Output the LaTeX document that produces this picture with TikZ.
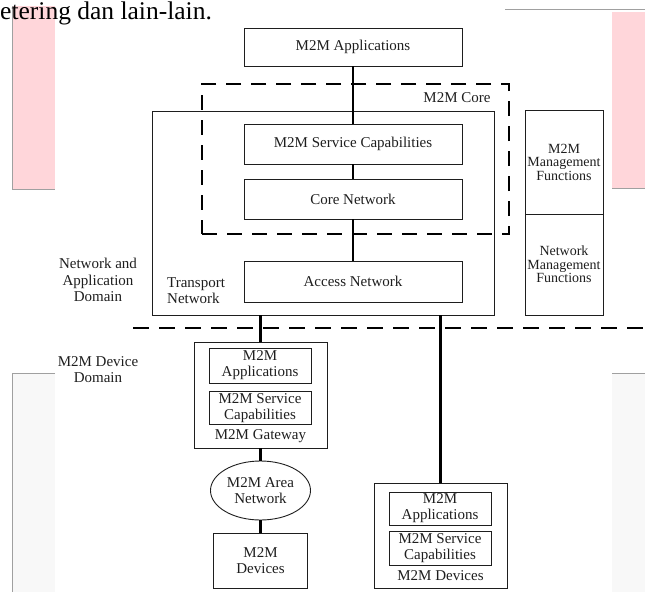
\documentclass[tikz,border=0pt]{standalone}
\usepackage{fontspec}
\setmainfont{Liberation Serif}
\usetikzlibrary{shapes.geometric}

\definecolor{pinkbg}{RGB}{255,214,218}
\definecolor{greybg}{RGB}{248,248,248}
\definecolor{edgegrey}{RGB}{160,160,160}
\definecolor{ink}{RGB}{30,30,30}

\tikzset{
  box/.style={draw=ink, rectangle, line width=0.9pt, inner sep=0pt, align=center,
    text=ink, font=\fontsize{15}{16}\selectfont},
  mgmtbox/.style={box, font=\fontsize{14}{13.5}\selectfont},
  lbl/.style={align=center, inner sep=0pt, text=ink, font=\fontsize{15}{16.5}\selectfont},
  link/.style={draw=black, line width=2.8pt},
  domline/.style={draw=black, line width=2.8pt, dash pattern=on 16pt off 10pt},
}

\begin{document}
\begin{tikzpicture}[x=1pt,y=-1pt]
  \useasboundingbox (0,0) rectangle (645,592);

  % what is left of the page round the picture
  \fill[pinkbg] (12,6) rectangle (55,189);
  \draw[edgegrey] (12,6) -- (12,189) -- (55,189);
  \fill[pinkbg] (612,12) rectangle (645,188);
  \draw[edgegrey] (505,9) -- (645,9);
  \draw[edgegrey] (612,188) -- (645,188);
  \fill[greybg] (12,373) rectangle (55,592);
  \draw[edgegrey] (55,373) -- (12,373) -- (12,592);
  \fill[greybg] (612,373) rectangle (645,592);
  \draw[edgegrey] (612,373) -- (645,373);
  \node[anchor=base west, inner sep=0pt, font=\fontsize{25.5}{27}\selectfont] (top) at (0,19) {etering dan lain-lain.};

  % network and application domain
  \begin{scope}[every node/.style={box}]
    \node[minimum width=342, minimum height=204] (5) at (323,213) {};
    \node[minimum width=218, minimum height=38] (1)  at (353,47)  {M2M Applications};
    \node[minimum width=218, minimum height=40] (2)  at (353,144) {M2M Service Capabilities};
    \node[minimum width=218, minimum height=40] (3)  at (353,199) {Core Network};
    \node[minimum width=218, minimum height=41] (4)  at (353,281.5) {Access Network};
    \node[draw=black, line width=2.8pt, dash pattern=on 15pt off 10pt,
      minimum width=307, minimum height=150] (core) at (355.5,159) {};
  \end{scope}

  \begin{scope}[every node/.style={mgmtbox}]
    \node[minimum width=78, minimum height=104] (6) at (564,162) {M2M\\Management\\Functions};
    \node[minimum width=78, minimum height=101] (7) at (564,264.5) {Network\\Management\\Functions};
  \end{scope}

  % device domain
  \begin{scope}[every node/.style={box}]
    \node[minimum width=133, minimum height=106] (8)  at (260.5,395) {};
    \node[minimum width=102, minimum height=35]  (9)  at (260,365.5) {M2M\\Applications};
    \node[minimum width=102, minimum height=33]  (10) at (260,408)   {M2M Service\\Capabilities};
    \node[ellipse, minimum width=100, minimum height=59] (11) at (260.5,490.5) {M2M Area\\Network};
    \node[minimum width=94, minimum height=55]   (12) at (260.5,560.5) {M2M\\Devices};
    \node[minimum width=133, minimum height=105] (13) at (440.5,535.5) {};
    \node[minimum width=102, minimum height=33]  (14) at (440,508.5) {M2M\\Applications};
    \node[minimum width=102, minimum height=34]  (15) at (440,548)   {M2M Service\\Capabilities};
  \end{scope}

  \begin{scope}[every node/.style={lbl}]
    \node (corelbl) at (457,98)  {M2M Core};
    \node[align=left, anchor=north west] (tn) at (167,277) {Transport\\Network};
    \node (nad) at (98,280) {Network and\\Application\\Domain};
    \node (mdd) at (98,369.5) {M2M Device\\Domain};
    \node (gw)  at (260.5,436) {M2M Gateway};
    \node (dev) at (440.5,576) {M2M Devices};
  \end{scope}

  \coordinate (dl) at (133,328);
  \coordinate (dr) at (645,328);
  \draw[domline] (dl) -- (dr);

  \path (1) edge[link] (2);
  \path (2) edge[link] (3);
  \path (3) edge[link] (4);
  \path (5.south -| 8.north) edge[link] (8.north);
  \path (5.south -| 13.north) edge[link] (13.north);
  \path (8) edge[link] (11);
  \path (11) edge[link] (12);

\end{tikzpicture}
\end{document}
